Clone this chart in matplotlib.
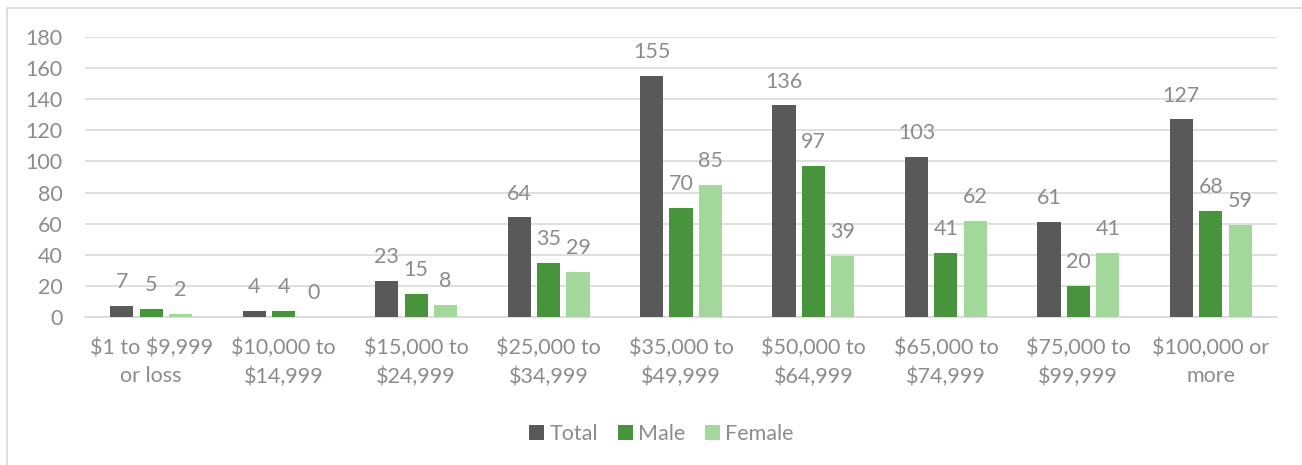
import matplotlib.pyplot as plt
import numpy as np
from matplotlib.patches import Rectangle

categories = ["\\$1 to \\$9,999\nor loss", "\\$10,000 to\n\\$14,999", "\\$15,000 to\n\\$24,999",
              "\\$25,000 to\n\\$34,999", "\\$35,000 to\n\\$49,999", "\\$50,000 to\n\\$64,999",
              "\\$65,000 to\n\\$74,999", "\\$75,000 to\n\\$99,999", "\\$100,000 or\nmore"]
total = [7, 4, 23, 64, 155, 136, 103, 61, 127]
male = [5, 4, 15, 35, 70, 97, 41, 20, 68]
female = [2, 0, 8, 29, 85, 39, 62, 41, 59]

series = [("Total", total, "#595959"),
          ("Male", male, "#48943d"),
          ("Female", female, "#a2d89a")]

txt = "#8c8c8c"
grid = "#d9d9d9"
fs = 15.5
plt.rcParams['font.family'] = ['Lato', 'DejaVu Sans']

fig = plt.figure(figsize=(13.02, 4.65), dpi=100)
ax = fig.add_axes([0.0653, 0.3183, 0.9155, 0.6021])

# outer chart border (partly cut off in the screenshot)
fig.patches.append(Rectangle((7 / 1302, -0.1), 1.2, 1 - 8 / 465 + 0.1,
                             transform=fig.transFigure, fill=False,
                             edgecolor=grid, lw=1.2))

x = np.arange(len(categories))
w = 0.175
step = 0.222
for i, (name, vals, col) in enumerate(series):
    pos = x + (i - 1) * step
    ax.bar(pos, vals, w, color=col, label=name, zorder=3)
    for p, v in zip(pos, vals):
        ax.annotate(str(v), (p, v), xytext=(0, 10), textcoords="offset points",
                    ha="center", va="bottom", fontsize=fs, color=txt)

ax.set_ylim(0, 180)
ax.set_xlim(-0.5, len(categories) - 0.5)
ax.set_yticks(range(0, 181, 20))
ax.set_xticks(x)
ax.set_xticklabels(categories, linespacing=1.5)
ax.tick_params(length=0, labelsize=fs, labelcolor=txt)
ax.tick_params(axis="y", pad=16)
ax.tick_params(axis="x", pad=15)
ax.yaxis.grid(True, color=grid, lw=1.2, zorder=0)
for s in ["top", "right", "left"]:
    ax.spines[s].set_visible(False)
ax.spines["bottom"].set_color(grid)
ax.spines["bottom"].set_linewidth(1.2)

fig.legend(loc="center", bbox_to_anchor=(0.508, 1 - 434 / 465), ncol=3, frameon=False,
           fontsize=fs, labelcolor=txt, handlelength=0.7, handleheight=0.7,
           handletextpad=0.25, columnspacing=0.9)

fig.savefig("out.png", dpi=100)
